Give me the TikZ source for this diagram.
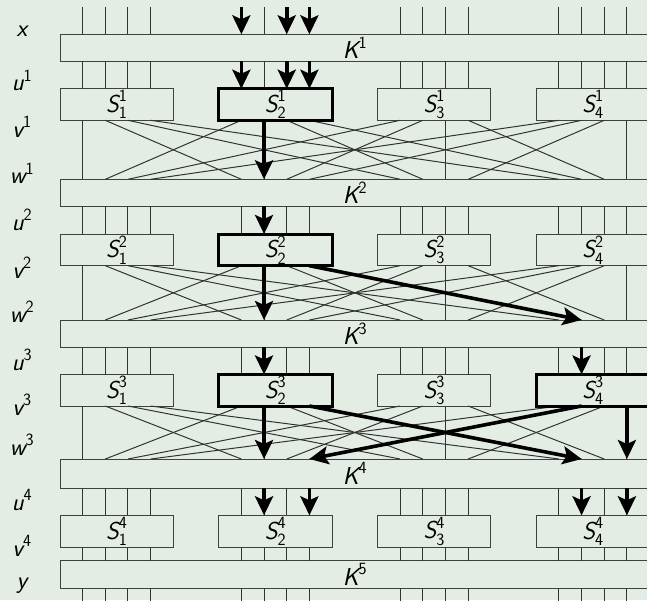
\documentclass[tikz,border=0pt]{standalone}
\usepackage{amsmath}
\usetikzlibrary{arrows.meta}
\definecolor{slidebg}{RGB}{228,237,228}
\newcommand\sfi[1]{\textsf{\itshape #1}}
\begin{document}
\begin{tikzpicture}[x=1pt,y=-1pt,
  font=\fontsize{24.5}{29}\selectfont\sffamily,
  keybox/.style={draw=black!75, line width=1pt, rectangle, inner sep=0pt, outer sep=0pt, minimum width=590pt},
  sbox/.style={draw=black!75, line width=1pt, rectangle, inner sep=0pt, outer sep=0pt, minimum width=113.4pt},
  txt/.style={inner sep=0pt},
  side/.style={anchor=base, inner sep=0pt},
  wire/.style={draw=black!80, line width=1pt},
  hot/.style={draw=black, line width=3.6pt, -{Stealth[length=19pt,width=18pt,inset=4pt]}},
  hotbox/.style={draw=black, line width=3pt}]
\fill[slidebg] (0,0) rectangle (647,600);
\useasboundingbox (0,0) rectangle (647,600);

% key-mixing boxes K^1 ... K^5
\foreach \r/\t/\b in {1/34.3/61.3, 2/179.3/206.0, 3/320.0/347.0, 4/459.0/488.0, 5/560.7/588.0}{
  \pgfmathsetmacro\h{\b-\t}
  \node[keybox, minimum height=\h pt, anchor=north west] (K\r) at (60,\t) {};
  \node[txt] (K\r-txt) at (K\r.center) {$\sfi{K}^{\textsf{\r}}$};
}

% S-boxes S^r_g
\foreach \r/\t/\b in {1/88.7/120.3, 2/234.0/265.7, 3/374.5/406.0, 4/515.3/547.0}{
  \pgfmathsetmacro\h{\b-\t}
  \foreach \g in {1,...,4}{
    \pgfmathsetmacro\xl{60+158.76*(\g-1)}
    \node[sbox, minimum height=\h pt, anchor=north west] (S\r-\g) at (\xl,\t) {};
    \node[txt] (S\r-\g-txt) at (S\r-\g.center) {$\sfi{S}^{\textsf{\r}}_{\textsf{\g}}$};
  }
}

% bit positions
\foreach \i in {1,...,16}{
  \pgfmathsetmacro\bx{82.6+22.68*(7*int((\i-1)/4)+mod(\i-1,4))}
  \coordinate (top-\i) at (\bx,7.3);
  \coordinate (bot-\i) at (\bx,606);
}

% wires and the bit permutation
\foreach \i in {1,...,16}{
  \pgfmathtruncatemacro\g{int((\i-1)/4)+1}
  \pgfmathtruncatemacro\p{4*mod(\i-1,4)+int((\i-1)/4)+1}
  \draw[wire] (top-\i) -- (K1.north -| top-\i);
  \foreach \r in {1,2,3}{
    \pgfmathtruncatemacro\rn{\r+1}
    \draw[wire] (K\r.south -| top-\i) -- (S\r-\g.north -| top-\i);
    \draw[wire] (S\r-\g.south -| top-\i) -- (K\rn.north -| top-\p);
  }
  \draw[wire] (K4.south -| top-\i) -- (S4-\g.north -| top-\i);
  \draw[wire] (S4-\g.south -| top-\i) -- (K5.north -| top-\i);
  \draw[wire] (K5.south -| top-\i) -- (bot-\i);
}

% active S-boxes
\foreach \n in {S1-2,S2-2,S3-2,S3-4}
  \draw[hotbox] (\n.north west) rectangle (\n.south east);

% linear trail
\foreach \i in {5,7,8}{
  \draw[hot] (top-\i) -- (K1.north -| top-\i);
  \draw[hot] (K1.south -| top-\i) -- (S1-2.north -| top-\i);
}
\draw[hot] (S1-2.south -| top-6) -- (K2.north -| top-6);
\draw[hot] (K2.south -| top-6) -- (S2-2.north -| top-6);
\draw[hot] (S2-2.south -| top-6) -- (K3.north -| top-6);
\draw[hot] (S2-2.south -| top-8) -- (K3.north -| top-14);
\draw[hot] (K3.south -| top-6) -- (S3-2.north -| top-6);
\draw[hot] (K3.south -| top-14) -- (S3-4.north -| top-14);
\draw[hot] (S3-2.south -| top-6) -- (K4.north -| top-6);
\draw[hot] (S3-2.south -| top-8) -- (K4.north -| top-14);
\draw[hot] (S3-4.south -| top-14) -- (K4.north -| top-8);
\draw[hot] (S3-4.south -| top-16) -- (K4.north -| top-16);
\draw[hot] (K4.south -| top-6) -- (S4-2.north -| top-6);
\draw[hot] (K4.south -| top-8) -- (S4-2.north -| top-8);
\draw[hot] (K4.south -| top-14) -- (S4-4.north -| top-14);
\draw[hot] (K4.south -| top-16) -- (S4-4.north -| top-16);

% state labels
\node[side] (lab-x)  at (22,36.7)  {$\sfi{x}$};
\node[side] (lab-u1) at (22,90.7)  {$\sfi{u}^{\textsf{1}}$};
\node[side] (lab-v1) at (22,137.0) {$\sfi{v}^{\textsf{1}}$};
\node[side] (lab-w1) at (22,183.5) {$\sfi{w}^{\textsf{1}}$};
\node[side] (lab-u2) at (22,230.0) {$\sfi{u}^{\textsf{2}}$};
\node[side] (lab-v2) at (22,278.0) {$\sfi{v}^{\textsf{2}}$};
\node[side] (lab-w2) at (22,322.0) {$\sfi{w}^{\textsf{2}}$};
\node[side] (lab-u3) at (22,370.0) {$\sfi{u}^{\textsf{3}}$};
\node[side] (lab-v3) at (22,415.0) {$\sfi{v}^{\textsf{3}}$};
\node[side] (lab-w3) at (22,455.0) {$\sfi{w}^{\textsf{3}}$};
\node[side] (lab-u4) at (22,510.0) {$\sfi{u}^{\textsf{4}}$};
\node[side] (lab-v4) at (22,556.0) {$\sfi{v}^{\textsf{4}}$};
\node[side] (lab-y)  at (22,588.5) {$\sfi{y}$};
\end{tikzpicture}
\end{document}
